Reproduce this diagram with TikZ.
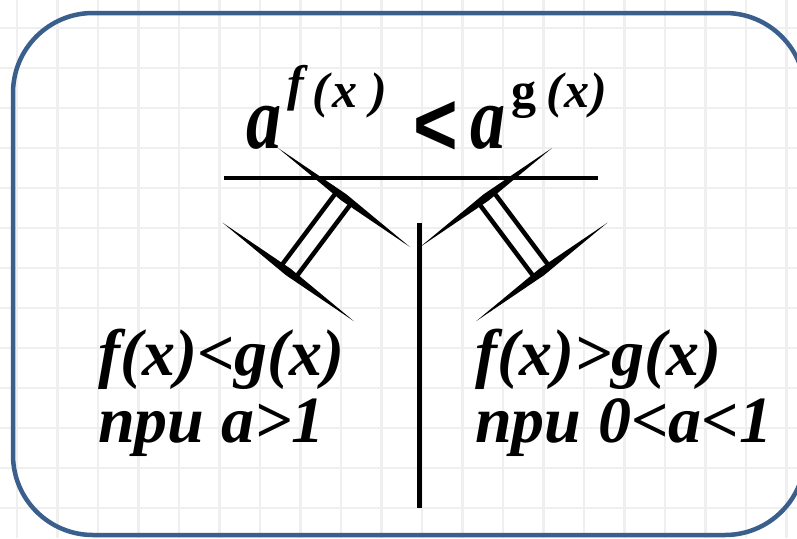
\documentclass[tikz,border=0pt]{standalone}
\usepackage{fontspec}
\setmainfont{Liberation Serif}
\newfontfamily\sansfam{Liberation Sans}
\definecolor{framecol}{RGB}{58,95,140}
\definecolor{gridcol}{RGB}{239,239,239}
\tikzset{
  gridline/.style={draw=gridcol, line width=2.5pt},
  framebox/.style={draw=framecol, line width=4.5pt, rounded corners=80pt},
  thickline/.style={draw=black, line width=4.5pt},
  shaft/.style={draw=black, line width=4.5pt},
  txt/.style={inner sep=0pt, anchor=base west, font=\fontsize{66}{66}\selectfont\bfseries\itshape},
  bigA/.style={inner sep=0pt, anchor=base west, xscale=0.78, font=\fontsize{90}{90}\selectfont\bfseries\itshape},
  supi/.style={inner sep=0pt, anchor=base west, font=\fontsize{50}{50}\selectfont\bfseries\itshape},
  supu/.style={inner sep=0pt, anchor=base west, font=\fontsize{50}{50}\selectfont\bfseries},
  ltsign/.style={inner sep=0pt, anchor=base west, xscale=0.85, font=\sansfam\bfseries\fontsize{90}{90}\selectfont}
}
\begin{document}
\begin{tikzpicture}[x=1pt,y=-1pt]
\useasboundingbox (0,0) rectangle (797,538);
\clip (0,0) rectangle (797,538);
\fill[white] (0,0) rectangle (797,538);
% background grid
\foreach \i in {0,...,19} \draw[gridline] ({17+40.5*\i},0) -- ({17+40.5*\i},538);
\foreach \j in {0,...,12} \draw[gridline] (0,{28+40*\j}) -- (797,{28+40*\j});
% frame
\draw[framebox] (13,13) rectangle (805,535);
% top formula
\node[bigA] (a1) at (246,148) {a};
\node[supi] (f1) at (287,100) {f};
\node[supi] (p1) at (312,107) {(};
\node[supi] (x1) at (332,107) {x};
\node[supi] (q1) at (370,107) {)};
\node[ltsign] (lt) at (413,155) {<};
\node[bigA] (a2) at (470,148) {a};
\node[supu] (g2) at (511,107) {g};
\node[supi] (p2) at (546,107) {(};
\node[supi] (x2) at (564,107) {x};
\node[supi] (q2) at (590,107) {)};
% lines
\coordinate (hl) at (224,178);
\coordinate (hr) at (598,178);
\draw[thickline] (hl) -- (hr);
\coordinate (vt) at (419.5,223);
\coordinate (vb) at (419.5,508);
\draw[thickline] (vt) -- (vb);
% left implication symbol
\fill (278,148) -- (341.6,200.7) -- (410,247) -- (346.4,194.3) -- cycle;
\fill (222.6,222.7) -- (285.8,275.1) -- (353.8,321.1) -- (290.6,268.7) -- cycle;
\draw[shaft] (351.44,203.08) -- (295.64,277.48);
\draw[shaft] (336.56,191.92) -- (280.76,266.32);
% right implication symbol (mirror)
\fill (552,148) -- (488.4,200.7) -- (420,247) -- (483.6,194.3) -- cycle;
\fill (607.4,222.7) -- (544.2,275.1) -- (476.2,321.1) -- (539.4,268.7) -- cycle;
\draw[shaft] (478.56,203.08) -- (534.36,277.48);
\draw[shaft] (493.44,191.92) -- (549.24,266.32);
% conditions
\node[txt] (l1) at (98,375) {f(x)<g(x)};
\node[txt] (l2) at (98,442) {npu a>1};
\node[txt] (r1) at (475,375) {f(x)>g(x)};
\node[txt] (r2) at (475,442) {npu 0<a<1};
\end{tikzpicture}
\end{document}
